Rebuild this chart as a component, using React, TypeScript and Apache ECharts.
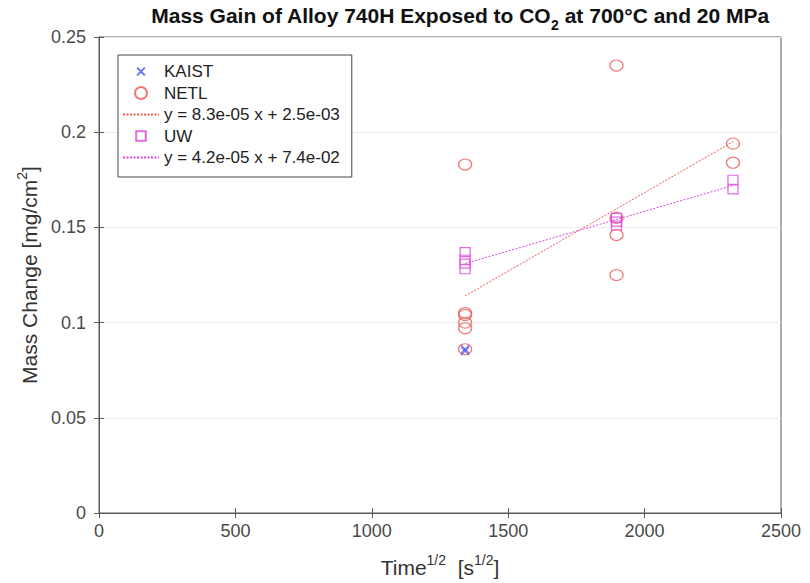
import React, { useEffect, useRef } from "react";
import * as echarts from "echarts";

const kaistTime = [1342, 1342];
const kaistMass = [0.086, 0.085];

const netlTime = [1342, 1342, 1342, 1342, 1342, 1342, 1897, 1897, 1897, 1897, 2324, 2324];
const netlMass = [0.183, 0.105, 0.104, 0.1, 0.097, 0.086, 0.235, 0.155, 0.146, 0.125, 0.194, 0.184];

const uwTime = [1342, 1342, 1342, 1342, 1897, 1897, 1897, 2324, 2324];
const uwMass = [0.137, 0.133, 0.131, 0.128, 0.155, 0.153, 0.151, 0.175, 0.17];

const netlFitTime = [1342, 2324];
const netlFitMass = [0.114, 0.195];
const uwFitTime = [1342, 2324];
const uwFitMass = [0.131, 0.172];

const xTicks = [0, 500, 1000, 1500, 2000, 2500];
const yTicks = [0, 0.05, 0.1, 0.15, 0.2, 0.25];

const netlFitName = "y = 8.3e-05 x + 2.5e-03";
const uwFitName = "y = 4.2e-05 x + 7.4e-02";

const FONT = "Liberation Sans, Arial, sans-serif";
const RED = "#ea5a52";
const MAG = "#dc45dc";
const BLUE = "#4848f0";

const X_PATH = "path://M0,0 L10,10 M10,0 L0,10";
const X_LEGEND = "path://M0,0 M1.8,1.8 L8.2,8.2 M8.2,1.8 L1.8,8.2 M10,10";
const SQ_LEGEND = "path://M0,0 M1,1 L9,1 L9,9 L1,9 Z M10,10";

const zip = (a: number[], b: number[]) => a.map((v, i) => [v, b[i]]);

export default function App() {
  const ref = useRef<HTMLDivElement>(null);
  useEffect(() => {
    if (!ref.current) return;
    const chart = echarts.init(ref.current, null, { renderer: "svg" });
    const axisColor = "#5a5a5a";
    const labelColor = "#4a4a4a";
    const nameRich = {
      a: { fontSize: 21, color: "#333", fontFamily: FONT, lineHeight: 25, verticalAlign: "bottom" },
      sup: { fontSize: 14, color: "#333", fontFamily: FONT, lineHeight: 12, verticalAlign: "top" },
    };
    chart.setOption({
      animation: false,
      backgroundColor: "#fff",
      textStyle: { fontFamily: FONT },
      title: {
        text: "{a|Mass Gain of Alloy 740H Exposed to CO}{sub|2}{a| at 700°C and 20 MPa}",
        left: 455,
        textAlign: "center",
        top: 0,
        textStyle: {
          rich: {
            a: { fontSize: 21, fontWeight: "bold", color: "#111", fontFamily: FONT, lineHeight: 27, verticalAlign: "top" },
            sub: { fontSize: 14, fontWeight: "bold", color: "#111", fontFamily: FONT, lineHeight: 12, verticalAlign: "bottom" },
          },
        },
      },
      grid: { left: 99, right: 29, top: 37, bottom: 69, show: true, borderColor: axisColor, borderWidth: 1, backgroundColor: "#fff" },
      legend: {
        orient: "vertical",
        left: 118,
        top: 55,
        padding: [8, 12, 11, 4],
        itemWidth: 36,
        itemHeight: 12,
        itemGap: 4.5,
        borderColor: "#444",
        borderWidth: 1,
        backgroundColor: "#fff",
        textStyle: { fontSize: 17, color: "#222", fontFamily: FONT },
        data: [
          { name: "KAIST", icon: X_LEGEND },
          { name: "NETL" },
          { name: netlFitName, itemStyle: { opacity: 0 } },
          { name: "UW", icon: SQ_LEGEND },
          { name: uwFitName, itemStyle: { opacity: 0 } },
        ],
      },
      xAxis: [
        {
          type: "value",
          min: xTicks[0],
          max: xTicks[xTicks.length - 1],
          interval: 500,
          axisLine: { show: true, lineStyle: { color: axisColor } },
          axisTick: { show: true, inside: true, length: 5, lineStyle: { color: axisColor } },
          axisLabel: { fontSize: 18, color: labelColor, margin: 9, fontFamily: FONT, formatter: (v: number) => String(v) },
          splitLine: { show: false },
          name: "{a|Time}{sup|1/2}{a|  [s}{sup|1/2}{a|]}",
          nameLocation: "middle",
          nameGap: 40,
          nameTextStyle: { rich: nameRich },
        },
        {
          type: "value",
          position: "top",
          min: xTicks[0],
          max: xTicks[xTicks.length - 1],
          interval: 500,
          axisLine: { show: true, lineStyle: { color: axisColor } },
          axisTick: { show: true, inside: true, length: 5, lineStyle: { color: axisColor } },
          axisLabel: { show: false },
          splitLine: { show: false },
        },
      ],
      yAxis: [
        {
          type: "value",
          min: yTicks[0],
          max: yTicks[yTicks.length - 1],
          interval: 0.05,
          axisLine: { show: true, lineStyle: { color: axisColor } },
          axisTick: { show: true, inside: true, length: 5, lineStyle: { color: axisColor } },
          axisLabel: { fontSize: 18, color: labelColor, margin: 13, fontFamily: FONT, formatter: (v: number) => String(v) },
          splitLine: { show: true, lineStyle: { color: "#ececec", width: 1 } },
          name: "{a|Mass Change [mg/cm}{sup|2}{a|]}",
          nameLocation: "middle",
          nameGap: 52,
          nameRotate: 90,
          nameTextStyle: { rich: nameRich },
        },
        {
          type: "value",
          position: "right",
          min: yTicks[0],
          max: yTicks[yTicks.length - 1],
          interval: 0.05,
          axisLine: { show: true, lineStyle: { color: axisColor } },
          axisTick: { show: true, inside: true, length: 5, lineStyle: { color: axisColor } },
          axisLabel: { show: false },
          splitLine: { show: false },
        },
      ],
      series: [
        {
          name: "NETL",
          type: "scatter",
          symbol: "circle",
          symbolSize: [13, 11],
          itemStyle: { color: "transparent", borderColor: RED, borderWidth: 1.2 },
          data: zip(netlTime, netlMass),
          z: 3,
        },
        {
          name: netlFitName,
          type: "line",
          symbol: "none",
          showSymbol: false,
          lineStyle: { color: RED, width: 1, type: [2, 1.5] },
          itemStyle: { color: "transparent", borderWidth: 0 },
          data: zip(netlFitTime, netlFitMass),
          z: 2,
        },
        {
          name: "UW",
          type: "scatter",
          symbol: "rect",
          symbolSize: [10, 9],
          itemStyle: { color: "transparent", borderColor: MAG, borderWidth: 1.2 },
          data: zip(uwTime, uwMass),
          z: 3,
        },
        {
          name: uwFitName,
          type: "line",
          symbol: "none",
          showSymbol: false,
          lineStyle: { color: MAG, width: 1, type: [2, 1.5] },
          itemStyle: { color: "transparent", borderWidth: 0 },
          data: zip(uwFitTime, uwFitMass),
          z: 2,
        },
        {
          name: "KAIST",
          type: "scatter",
          symbol: X_PATH,
          symbolSize: 8,
          itemStyle: { color: "transparent", borderColor: BLUE, borderWidth: 1.2 },
          data: zip(kaistTime, kaistMass),
          z: 4,
        },
      ],
    });
    return () => chart.dispose();
  }, []);
  return (
    <div
      ref={ref}
      style={{ position: "absolute", left: 0, top: 0, width: 810, height: 583, background: "#fff" }}
    />
  );
}
